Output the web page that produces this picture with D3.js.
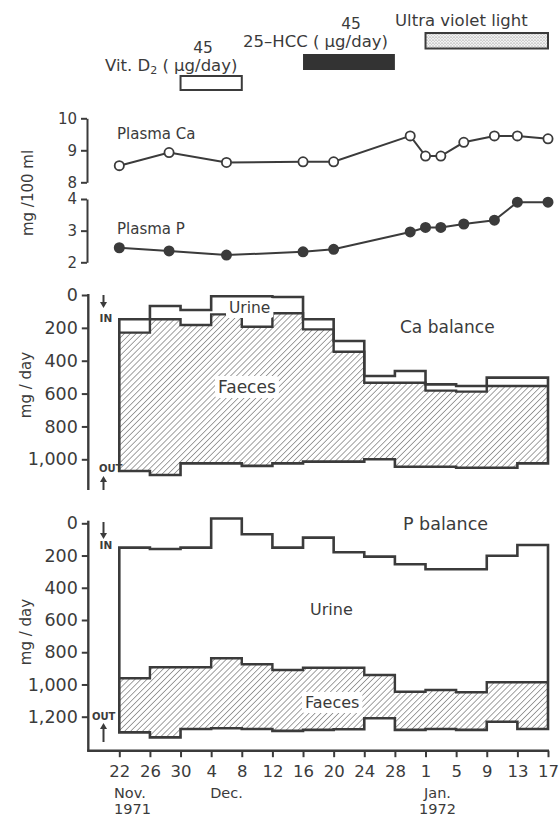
<!doctype html>
<html lang="en">
<head>
<meta charset="utf-8">
<style>
  body { margin: 0; background: #fff; }
  text { font-family: "DejaVu Sans", sans-serif; fill: #3b3b3b; }
</style>
</head>
<body>
<script src="https://d3js.org/d3.v7.min.js"></script>
<div id="chart"></div>
<script>
// ---- data ----
// day 0 = 22 Nov 1971
var tickDays   = [0, 4, 8, 12, 16, 20, 24, 28, 32, 36, 40, 44, 48, 52, 56];
var tickLabels = ["22", "26", "30", "4", "8", "12", "16", "20", "24", "28", "1", "5", "9", "13", "17"];
var monthLabels = ["Nov.", "Dec.", "Jan."];
var yearLabels  = ["1971", "1972"];

// treatments (start / end day)
var treatNames = ["Vit. D", "25\u2013HCC", "Ultra violet light"];
var treatStart = [8, 24, 40];
var treatEnd   = [16, 36, 56];

// plasma
var plasmaDays = [0, 6.5, 14, 24, 28, 38, 40, 42, 45, 49, 52, 56];
var plasmaCa   = [8.52, 8.93, 8.62, 8.64, 8.64, 9.45, 8.82, 8.82, 9.25, 9.45, 9.45, 9.36];
var plasmaP    = [2.46, 2.36, 2.23, 2.33, 2.41, 2.96, 3.1, 3.1, 3.21, 3.33, 3.9, 3.9];

// 4-day balance periods (mg/day)
var periodStart = [0, 4, 8, 12, 16, 20, 24, 28, 32, 36, 40, 44, 48, 52];
var caIntake = [1071, 1096, 1025, 1025, 1040, 1025, 1014, 1014, 1000, 1045, 1045, 1051, 1051, 1025];
var caFaeces = [842, 948, 842, 907, 847, 914, 805, 669, 466, 511, 463, 463, 497, 471];
var caUrine  = [81, 81, 92, 110, 185, 99, 61, 65, 41, 71, 38, 34, 51, 51];
var pIntake  = [1297, 1328, 1276, 1272, 1276, 1288, 1282, 1278, 1210, 1282, 1276, 1282, 1231, 1276];
var pFaeces  = [336, 435, 383, 435, 401, 378, 386, 382, 269, 237, 242, 234, 245, 290];
var pUrine   = [810, 734, 742, 867, 807, 759, 807, 716, 734, 791, 749, 763, 785, 851];

var caTicks = [0, 200, 400, 600, 800, 1000];
var pTicks  = [0, 200, 400, 600, 800, 1000, 1200];

// ---- setup ----
var width = 559, height = 818;
var ink = "#3b3b3b";
var svg = d3.select("#chart").append("svg")
    .attr("width", width).attr("height", height);

var defs = svg.append("defs");
var hatch = defs.append("pattern").attr("id", "hatch")
    .attr("width", 4.2).attr("height", 4.2)
    .attr("patternUnits", "userSpaceOnUse")
    .attr("patternTransform", "rotate(45)");
hatch.append("line").attr("x1", 0).attr("y1", 0).attr("x2", 0).attr("y2", 4.2)
    .attr("stroke", "#555").attr("stroke-width", 1.1);

var dots = defs.append("pattern").attr("id", "dots")
    .attr("width", 3).attr("height", 3).attr("patternUnits", "userSpaceOnUse");
dots.append("rect").attr("width", 3).attr("height", 3).attr("fill", "#f2f2f2");
dots.append("circle").attr("cx", 1).attr("cy", 1).attr("r", 0.6).attr("fill", "#777");
dots.append("circle").attr("cx", 2.5).attr("cy", 2.3).attr("r", 0.45).attr("fill", "#999");

var x = d3.scaleLinear().domain([0, 56]).range([119.3, 548]);

// ---- treatment bars ----
var barY = [76, 54, 33], barH = [14, 16, 15.5];
svg.append("rect").attr("x", x(treatStart[0])).attr("y", barY[0])
    .attr("width", x(treatEnd[0]) - x(treatStart[0])).attr("height", barH[0])
    .attr("fill", "#fff").attr("stroke", ink).attr("stroke-width", 2);
svg.append("rect").attr("x", x(treatStart[1])).attr("y", barY[1])
    .attr("width", x(treatEnd[1]) - x(treatStart[1])).attr("height", barH[1])
    .attr("fill", "#333");
svg.append("rect").attr("x", x(treatStart[2])).attr("y", barY[2])
    .attr("width", x(treatEnd[2]) - x(treatStart[2])).attr("height", barH[2])
    .attr("fill", "url(#dots)").attr("stroke", ink).attr("stroke-width", 2);

var vit = svg.append("text").attr("x", 105).attr("y", 71).attr("font-size", 16.5);
vit.append("tspan").text(treatNames[0]);
vit.append("tspan").attr("font-size", 11).attr("dy", 3).text("2");
vit.append("tspan").attr("dy", -3).text(" ( \u03bcg/day)");
svg.append("text").attr("x", 203).attr("y", 53).attr("font-size", 15.5)
    .attr("text-anchor", "middle").text("45");
svg.append("text").attr("x", 243).attr("y", 47).attr("font-size", 16.5)
    .text(treatNames[1] + " ( \u03bcg/day)");
svg.append("text").attr("x", 351).attr("y", 29).attr("font-size", 15.5)
    .attr("text-anchor", "middle").text("45");
svg.append("text").attr("x", 395).attr("y", 26).attr("font-size", 16.5)
    .text(treatNames[2]);

// ---- plasma panel ----
var yCa = d3.scaleLinear().domain([8, 10]).range([182.3, 118.3]);
var yP  = d3.scaleLinear().domain([2, 4]).range([262.3, 199]);

function bracket(scale, vals) {
  var g = svg.append("g").attr("transform", "translate(87,0)")
      .call(d3.axisLeft(scale).tickValues(vals).tickSize(6).tickSizeOuter(0)
            .tickPadding(4).tickFormat(d3.format("d")));
  g.select(".domain").attr("stroke", ink).attr("stroke-width", 2);
  g.selectAll(".tick line").attr("stroke", ink).attr("stroke-width", 2);
  g.selectAll(".tick text").attr("font-size", 15).attr("font-family", "DejaVu Sans")
      .attr("fill", ink);
}
bracket(yCa, [8, 9, 10]);
bracket(yP, [2, 3, 4]);

svg.append("text").attr("transform", "translate(33,193) rotate(-90)")
    .attr("text-anchor", "middle").attr("font-size", 15).text("mg /100 ml");
svg.append("text").attr("x", 117).attr("y", 139).attr("font-size", 15).text("Plasma Ca");
svg.append("text").attr("x", 117).attr("y", 234).attr("font-size", 15).text("Plasma P");

function plasmaLine(vals, scale, fill) {
  var pts = plasmaDays.map(function(d, i) { return [x(d), scale(vals[i])]; });
  svg.append("path").attr("d", d3.line()(pts))
      .attr("fill", "none").attr("stroke", ink).attr("stroke-width", 2);
  svg.selectAll(null).data(pts).enter().append("circle")
      .attr("cx", function(d) { return d[0]; })
      .attr("cy", function(d) { return d[1]; })
      .attr("r", 4.6).attr("fill", fill).attr("stroke", ink).attr("stroke-width", 1.8);
}
plasmaLine(plasmaCa, yCa, "#fff");
plasmaLine(plasmaP, yP, ink);

// ---- balance panels ----
function arrow(ax, y1, y2) {
  var dir = y2 > y1 ? 1 : -1;
  svg.append("line").attr("x1", ax).attr("x2", ax).attr("y1", y1).attr("y2", y2 - dir * 4)
      .attr("stroke", ink).attr("stroke-width", 2);
  svg.append("path")
      .attr("d", "M" + (ax - 3.5) + "," + (y2 - dir * 6) + "L" + (ax + 3.5) + "," + (y2 - dir * 6) +
                 "L" + ax + "," + y2 + "Z")
      .attr("fill", ink);
}

function labelBox(tx, ty, size, str) {
  var t = svg.append("text").attr("x", tx).attr("y", ty).attr("font-size", size).text(str);
  var b = t.node().getBBox();
  svg.insert("rect", function() { return t.node(); })
      .attr("x", b.x - 3).attr("y", b.y - 1).attr("width", b.width + 6).attr("height", b.height + 2)
      .attr("rx", 3).attr("fill", "#fff");
  return t;
}

function balance(scale, ticks, intake, faeces, urine, axisTop, axisBottom) {
  var rows = periodStart.map(function(d, i) {
    return { day: d, intake: intake[i], mid: intake[i] - faeces[i],
             top: intake[i] - faeces[i] - urine[i] };
  });
  var last = rows[rows.length - 1];
  rows.push({ day: 56, intake: last.intake, mid: last.mid, top: last.top });

  svg.append("path").datum(rows)
      .attr("d", d3.area().curve(d3.curveStepAfter)
          .x(function(d) { return x(d.day); })
          .y0(function(d) { return scale(d.intake); })
          .y1(function(d) { return scale(d.mid); }))
      .attr("fill", "url(#hatch)");
  svg.append("path").datum(rows)
      .attr("d", d3.line().curve(d3.curveStepAfter)
          .x(function(d) { return x(d.day); })
          .y(function(d) { return scale(d.mid); }))
      .attr("fill", "none").attr("stroke", ink).attr("stroke-width", 2.4);
  svg.append("path").datum(rows)
      .attr("d", d3.area().curve(d3.curveStepAfter)
          .x(function(d) { return x(d.day); })
          .y0(function(d) { return scale(d.intake); })
          .y1(function(d) { return scale(d.top); }))
      .attr("fill", "none").attr("stroke", ink).attr("stroke-width", 2.6)
      .attr("stroke-linejoin", "miter");

  var g = svg.append("g").attr("transform", "translate(88.3,0)")
      .call(d3.axisLeft(scale).tickValues(ticks).tickSize(6.5).tickPadding(4)
            .tickFormat(d3.format(",")));
  g.select(".domain").remove();
  g.selectAll(".tick line").attr("stroke", ink).attr("stroke-width", 2);
  g.selectAll(".tick text").attr("font-size", 17.5).attr("font-family", "DejaVu Sans")
      .attr("fill", ink);
  svg.append("line").attr("x1", 88.3).attr("x2", 88.3).attr("y1", axisTop).attr("y2", axisBottom)
      .attr("stroke", ink).attr("stroke-width", 2.4);
}

// Ca balance
var yCaB = d3.scaleLinear().domain([0, 1000]).range([295, 459.3]);
balance(yCaB, caTicks, caIntake, caFaeces, caUrine, 294, 490);
svg.append("text").attr("transform", "translate(31,385) rotate(-90)")
    .attr("text-anchor", "middle").attr("font-size", 15).text("mg / day");
arrow(103.5, 295, 308);
svg.append("text").attr("x", 99.5).attr("y", 321.5).attr("font-size", 10.5)
    .attr("font-weight", "bold").text("IN");
svg.append("text").attr("x", 99).attr("y", 471.5).attr("font-size", 10)
    .attr("font-weight", "bold").text("OUT");
arrow(103.5, 490, 476);
labelBox(229, 313, 15.5, "Urine");
labelBox(218, 393, 17, "Faeces");
svg.append("text").attr("x", 400).attr("y", 333).attr("font-size", 17).text("Ca balance");

// P balance
var yPB = d3.scaleLinear().domain([0, 1200]).range([523.3, 716.7]);
balance(yPB, pTicks, pIntake, pFaeces, pUrine, 520.7, 751);
svg.append("text").attr("transform", "translate(31,632) rotate(-90)")
    .attr("text-anchor", "middle").attr("font-size", 15).text("mg / day");
arrow(103.5, 522, 539);
svg.append("text").attr("x", 99.5).attr("y", 548.5).attr("font-size", 10.5)
    .attr("font-weight", "bold").text("IN");
svg.append("text").attr("x", 92).attr("y", 720).attr("font-size", 10)
    .attr("font-weight", "bold").text("OUT");
arrow(103.5, 742, 723);
svg.append("text").attr("x", 310).attr("y", 615).attr("font-size", 16).text("Urine");
labelBox(305, 708, 16, "Faeces");
svg.append("text").attr("x", 403).attr("y", 530).attr("font-size", 17.5).text("P balance");

// x axis
var xa = svg.append("g").attr("transform", "translate(0,750.7)")
    .call(d3.axisBottom(x).tickValues(tickDays).tickSize(6.5).tickPadding(8)
          .tickFormat(function(d, i) { return tickLabels[i]; }));
xa.select(".domain").remove();
xa.selectAll(".tick line").attr("stroke", ink).attr("stroke-width", 2);
xa.selectAll(".tick text").attr("font-size", 16.5).attr("font-family", "DejaVu Sans")
    .attr("fill", ink);
svg.append("line").attr("x1", 87.1).attr("x2", 549).attr("y1", 750.7).attr("y2", 750.7)
    .attr("stroke", ink).attr("stroke-width", 2.4);

var mSize = 14.5;
svg.append("text").attr("x", 114).attr("y", 798).attr("font-size", mSize).text(monthLabels[0]);
svg.append("text").attr("x", 114).attr("y", 814).attr("font-size", mSize).text(yearLabels[0]);
svg.append("text").attr("x", (x(12) + x(16)) / 2).attr("y", 798).attr("font-size", mSize)
    .attr("text-anchor", "middle").text(monthLabels[1]);
svg.append("text").attr("x", x(40) + 12).attr("y", 798).attr("font-size", mSize)
    .attr("text-anchor", "middle").text(monthLabels[2]);
svg.append("text").attr("x", x(40) + 12).attr("y", 814).attr("font-size", mSize)
    .attr("text-anchor", "middle").text(yearLabels[1]);
</script>
</body>
</html>
